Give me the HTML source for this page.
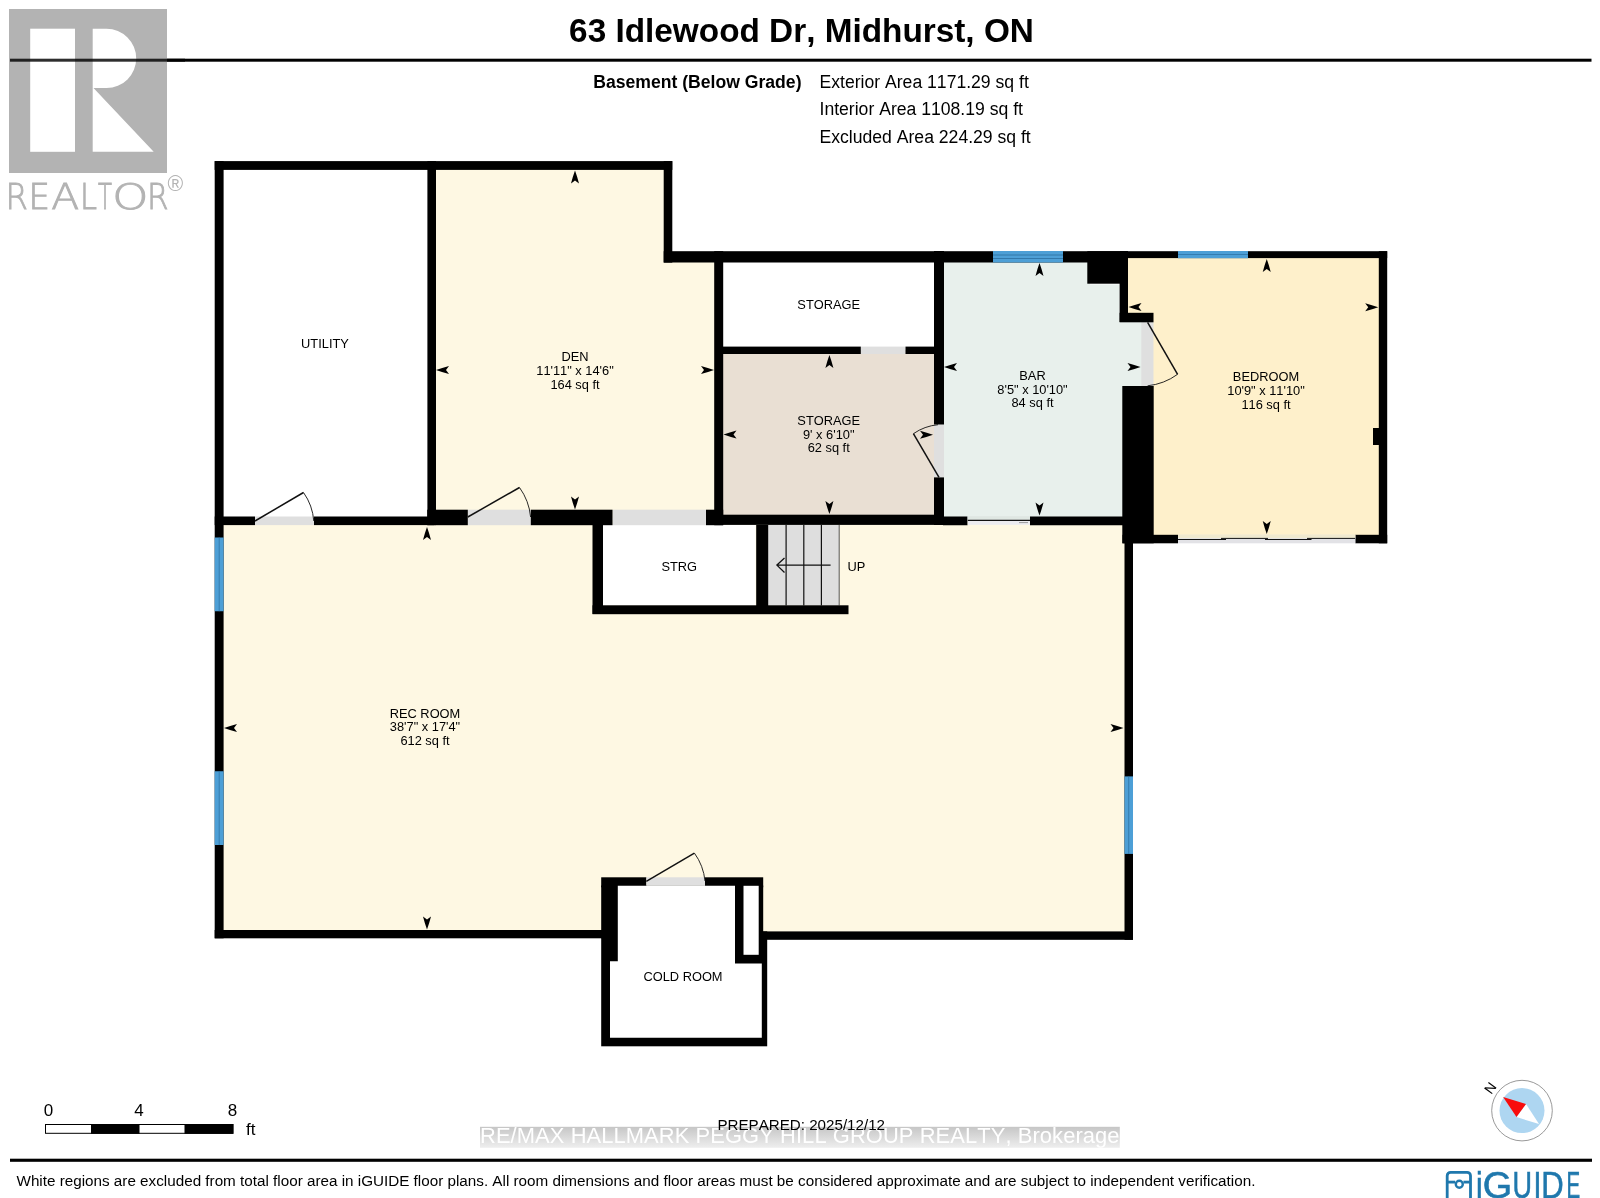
<!DOCTYPE html>
<html lang="en">
<head>
<meta charset="utf-8">
<title>63 Idlewood Dr, Midhurst, ON - Basement Floor Plan</title>
<style>
html,body{margin:0;padding:0;background:#fff;}
body{width:1600px;height:1198px;overflow:hidden;}
svg{display:block;will-change:transform;}
text{font-family:"Liberation Sans",sans-serif;fill:#000;font-kerning:none;}
.lbl{font-size:12.83px;text-anchor:middle;}
.b{font-weight:bold;}
text.ig{fill:#1f78ad;stroke:#1f78ad;stroke-width:0.6;}
text.rl{fill:#b3b3b3;stroke:#b3b3b3;stroke-width:0.9;font-family:"DejaVu Sans","Liberation Sans",sans-serif;font-weight:200;}
</style>
</head>
<body>
<svg width="1600" height="1198" viewBox="0 0 1600 1198">
<defs>
  <path id="ar" d="M0,0 Q2.2,6 4,13 L0,10 L-4,13 Q-2.2,6 0,0 Z"/>
  <linearGradient id="wm" x1="0" y1="0" x2="0" y2="1">
    <stop offset="0" stop-color="#c6c6c6"/>
    <stop offset="1" stop-color="#eeeeee"/>
  </linearGradient>
  <clipPath id="wmclip"><rect x="480" y="1126.8" width="639.8" height="21"/></clipPath>
</defs>
<rect x="0" y="0" width="1600" height="1198" fill="#ffffff"/>

<!-- ===== HEADER ===== -->
<g id="header">
  <rect x="10" y="58.7" width="1581.5" height="3" fill="#000"/>
  <text x="801.5" y="42" font-size="33.33" class="b" text-anchor="middle">63 Idlewood Dr, Midhurst, ON</text>
  <text x="801.5" y="87.5" font-size="17.6" class="b" text-anchor="end">Basement (Below Grade)</text>
  <text x="819.5" y="87.5" font-size="17.6">Exterior Area 1171.29 sq ft</text>
  <text x="819.5" y="115.3" font-size="17.6">Interior Area 1108.19 sq ft</text>
  <text x="819.5" y="142.5" font-size="17.6">Excluded Area 224.29 sq ft</text>
</g>

<!-- ===== ROOM FILLS ===== -->
<g id="fills">
  <!-- den -->
  <polygon points="432,166 667,166 667,256 718,256 718,518 432,518" fill="#fef8e3"/>
  <!-- rec room -->
  <polygon points="219,520 1128,520 1128,935 219,935" fill="#fef8e3"/>
  <!-- storage (tan) -->
  <rect x="718" y="350" width="220" height="168" fill="#e9dfd3"/>
  <!-- bar -->
  <polygon points="938,256 1090,256 1090,284.5 1119.5,284.5 1119.5,318 1147,318 1147,390 1126,390 1126,520 938,520" fill="#e8f0ec"/>
  <!-- bedroom -->
  <polygon points="1124,254 1382,254 1382,538 1150,538 1150,318 1124,318" fill="#fef0cb"/>
  <!-- white excluded: storage top, strg -->
  <rect x="723" y="262.5" width="210.5" height="84" fill="#fff"/>
  <rect x="603" y="525" width="152.5" height="80.5" fill="#fff"/>
</g>

<!-- ===== DOOR / OPENING GREYS ===== -->
<g id="openings" fill="#dfdfdf">
  <rect x="255" y="516.5" width="59" height="8.6"/>
  <rect x="467.8" y="509.7" width="63" height="15.5"/>
  <rect x="612.5" y="509.7" width="93.5" height="15.5"/>
  <rect x="860.8" y="346.6" width="44.7" height="7.4"/>
  <rect x="934" y="424.4" width="10" height="53"/>
  <rect x="1141.25" y="322" width="12.25" height="64"/>
</g>

<!-- ===== STAIRS ===== -->
<g id="stairs">
  <rect x="768" y="525" width="71.3" height="80.5" fill="#dedede"/>
  <g stroke="#111" stroke-width="1.2">
    <line x1="786.1" y1="525" x2="786.1" y2="605.5"/>
    <line x1="803.8" y1="525" x2="803.8" y2="605.5"/>
    <line x1="821.4" y1="525" x2="821.4" y2="605.5"/>
  </g>
  <line x1="839.2" y1="525" x2="839.2" y2="605.5" stroke="#333" stroke-width="0.8"/>
  <path d="M830.6,565.1 L776.9,565.1 M784.5,558 L776.9,565.1 L784.5,572.5" fill="none" stroke="#111" stroke-width="1.3"/>
</g>

<!-- ===== WALLS ===== -->
<g id="walls" fill="#000">
  <!-- outer left -->
  <rect x="214.7" y="161.1" width="8.9" height="777.2"/>
  <!-- top of utility + den -->
  <rect x="214.7" y="161.1" width="457.6" height="8.8"/>
  <!-- utility / den divider -->
  <rect x="427.4" y="161.1" width="8.6" height="364"/>
  <!-- den right upper -->
  <rect x="663.7" y="161.1" width="8.6" height="101.5"/>
  <!-- top wall of storage / bar -->
  <rect x="663.7" y="251.2" width="464.3" height="11.3"/>
  <!-- bedroom top wall -->
  <rect x="1120" y="251.2" width="267.2" height="6.9"/>
  <!-- den right lower -->
  <rect x="714.2" y="251.2" width="9" height="274"/>
  <!-- storage divider -->
  <rect x="723" y="346.6" width="137.8" height="7.4"/>
  <rect x="905.5" y="346.6" width="29.5" height="7.4"/>
  <!-- storage / bar wall -->
  <rect x="934" y="251" width="10" height="173.5"/>
  <rect x="934" y="477.4" width="10" height="47.6"/>
  <!-- utility bottom wall -->
  <rect x="214.7" y="516.5" width="40.3" height="8.6"/>
  <rect x="314" y="516.5" width="120" height="8.6"/>
  <!-- den bottom wall -->
  <rect x="427.25" y="509.7" width="40.55" height="15.5"/>
  <rect x="530.8" y="509.7" width="81.7" height="15.5"/>
  <rect x="706" y="509.7" width="17.2" height="15.5"/>
  <!-- storage bottom wall -->
  <rect x="714" y="514.7" width="230" height="10.2"/>
  <!-- bar bottom wall -->
  <rect x="943" y="516.5" width="24.5" height="8.75"/>
  <rect x="1030" y="516.5" width="96" height="8.75"/>
  <!-- block between bar and bedroom -->
  <rect x="1087.3" y="251.2" width="40.7" height="32.5"/>
  <rect x="1119.6" y="283" width="8.4" height="39"/>
  <rect x="1119.6" y="312.8" width="33.9" height="9.5"/>
  <rect x="1122.3" y="386" width="31.4" height="157.3"/>
  <!-- rec room right wall -->
  <rect x="1124.5" y="525" width="8.5" height="414.8"/>
  <!-- bedroom right wall -->
  <rect x="1378.8" y="251.2" width="8.4" height="292.1"/>
  <rect x="1373" y="428" width="6" height="17"/>
  <!-- bedroom bottom wall -->
  <rect x="1122.5" y="534.8" width="55.5" height="8.5"/>
  <rect x="1355.3" y="534.8" width="31.9" height="8.5"/>
  <!-- STRG box + stair wall -->
  <rect x="592.5" y="525" width="10.5" height="88.9"/>
  <rect x="592.5" y="605.3" width="256" height="8.9"/>
  <rect x="756.2" y="525" width="12" height="88.9"/>
  <!-- rec room bottom wall -->
  <rect x="214.7" y="930" width="387.3" height="8.3"/>
  <rect x="762" y="931.4" width="371" height="8.4"/>
</g>

<!-- ===== COLD ROOM ===== -->
<g id="cold">
  <rect x="601.2" y="877.3" width="45.2" height="10" fill="#000"/>
  <rect x="705" y="877.3" width="58.2" height="10" fill="#000"/>
  <rect x="601.2" y="885.5" width="162" height="52.8" fill="#000"/>
  <rect x="601.2" y="931.4" width="166" height="114.9" fill="#000"/>
  <polygon points="617.8,885.8 735,885.8 735,963.6 761.8,963.6 761.8,1037.7 610,1037.7 610,961.2 617.8,961.2" fill="#fff"/>
  <rect x="743.5" y="885.8" width="15.2" height="69" fill="#fff"/>
  <rect x="646.4" y="877.3" width="58.6" height="8.5" fill="#dfdfdf"/>
</g>

<!-- more sections inserted below -->
<g id="windows">
  <rect x="993" y="251" width="70" height="11.5" fill="#4d9fd6"/>
  <line x1="993" y1="255" x2="1063" y2="255" stroke="#2b6f9f" stroke-width="0.8"/>
  <line x1="993" y1="258.5" x2="1063" y2="258.5" stroke="#2b6f9f" stroke-width="0.8"/>
  <rect x="1178" y="251" width="70" height="7.2" fill="#4d9fd6"/>
  <line x1="1178" y1="254.5" x2="1248" y2="254.5" stroke="#2b6f9f" stroke-width="0.7"/>
  <rect x="214.7" y="537.5" width="8.9" height="73.75" fill="#4d9fd6"/>
  <line x1="219.2" y1="537.5" x2="219.2" y2="611.25" stroke="#2b6f9f" stroke-width="0.7"/>
  <rect x="214.7" y="771.25" width="8.9" height="73.75" fill="#4d9fd6"/>
  <line x1="219.2" y1="771.25" x2="219.2" y2="845" stroke="#2b6f9f" stroke-width="0.7"/>
  <rect x="1124.5" y="776.4" width="8.5" height="77.5" fill="#4d9fd6"/>
  <line x1="1128.7" y1="776.4" x2="1128.7" y2="853.9" stroke="#2b6f9f" stroke-width="0.7"/>
  <!-- sliding doors -->
  <rect x="967.8" y="516.2" width="62.2" height="8.6" fill="#ececf0"/>
  <rect x="967.8" y="516.2" width="62.2" height="3.6" fill="#dfe7e2"/>
  <line x1="967.8" y1="520.3" x2="1030" y2="520.3" stroke="#111" stroke-width="1.2"/>
  <line x1="1019" y1="522.6" x2="1028" y2="522.6" stroke="#777" stroke-width="0.7"/>
  <rect x="1178" y="534.8" width="177.3" height="8.5" fill="#e2e2e6"/>
  <rect x="1178" y="534.8" width="177.3" height="3.4" fill="#efe9cf"/>
  <g stroke="#111" stroke-width="1">
    <line x1="1178" y1="539.5" x2="1226" y2="539.5"/>
    <line x1="1221" y1="538.4" x2="1268" y2="538.4"/>
    <line x1="1265" y1="539.5" x2="1311.5" y2="539.5"/>
    <line x1="1307" y1="538.4" x2="1355" y2="538.4"/>
  </g>
</g>
<g id="doors" fill="none" stroke="#111">
  <g stroke-width="1.5" stroke-linecap="butt">
    <path d="M255,521 L303.5,492.5"/>
    <path d="M467.8,517 L519.5,487.5"/>
    <path d="M939,477.4 L913.4,433.7"/>
    <path d="M1147.6,322.3 L1177.6,374.3"/>
    <path d="M646.3,881.3 L694.4,853.1"/>
  </g>
  <g stroke-width="0.9">
    <path d="M303.5,492.5 A57,57 0 0 1 313.8,521"/>
    <path d="M519.5,487.5 A60,60 0 0 1 530.6,517"/>
    <path d="M913.4,433.7 A52,52 0 0 1 938,424.7"/>
    <path d="M1177.6,374.3 A62,62 0 0 1 1147.6,385.8"/>
    <path d="M694.4,853.1 A57,57 0 0 1 705,881"/>
  </g>
</g>
<g id="arrows" fill="#000">
  <use href="#ar" transform="translate(575,170.5) rotate(0)"/>
  <use href="#ar" transform="translate(575,509.5) rotate(180)"/>
  <use href="#ar" transform="translate(436,370) rotate(-90)"/>
  <use href="#ar" transform="translate(714,370) rotate(90)"/>
  <use href="#ar" transform="translate(829.4,355) rotate(0)"/>
  <use href="#ar" transform="translate(829.4,514) rotate(180)"/>
  <use href="#ar" transform="translate(723.5,434.5) rotate(-90)"/>
  <use href="#ar" transform="translate(933,434.8) rotate(90)"/>
  <use href="#ar" transform="translate(1039.5,263) rotate(0)"/>
  <use href="#ar" transform="translate(1039.5,515.5) rotate(180)"/>
  <use href="#ar" transform="translate(944,367) rotate(-90)"/>
  <use href="#ar" transform="translate(1140.5,367) rotate(90)"/>
  <use href="#ar" transform="translate(1266.75,259) rotate(0)"/>
  <use href="#ar" transform="translate(1266.75,534) rotate(180)"/>
  <use href="#ar" transform="translate(1128.5,307) rotate(-90)"/>
  <use href="#ar" transform="translate(1378.2,307.3) rotate(90)"/>
  <use href="#ar" transform="translate(427,527) rotate(0)"/>
  <use href="#ar" transform="translate(427,929.5) rotate(180)"/>
  <use href="#ar" transform="translate(224,728) rotate(-90)"/>
  <use href="#ar" transform="translate(1123.5,728) rotate(90)"/>
</g>
<g id="labels" class="lbl" transform="translate(0,0.7)">
  <text x="325" y="347">UTILITY</text>
  <text x="575" y="360.5">DEN</text>
  <text x="575" y="374.25">11'11" x 14'6"</text>
  <text x="575" y="388">164 sq ft</text>
  <text x="828.7" y="308.75">STORAGE</text>
  <text x="828.7" y="424.25">STORAGE</text>
  <text x="828.7" y="438">9' x 6'10"</text>
  <text x="828.7" y="451.75">62 sq ft</text>
  <text x="1032.5" y="379.5">BAR</text>
  <text x="1032.5" y="393.25">8'5" x 10'10"</text>
  <text x="1032.5" y="406.75">84 sq ft</text>
  <text x="1266" y="380.75">BEDROOM</text>
  <text x="1266" y="394.5">10'9" x 11'10"</text>
  <text x="1266" y="408">116 sq ft</text>
  <text x="425" y="717">REC ROOM</text>
  <text x="425" y="730.75">38'7" x 17'4"</text>
  <text x="425" y="744.5">612 sq ft</text>
  <text x="679.25" y="570">STRG</text>
  <text x="847.5" y="570" text-anchor="start">UP</text>
  <text x="683" y="980.75">COLD ROOM</text>
</g>
<g id="footer">
  <rect x="10" y="1158.7" width="1582" height="3.1" fill="#000"/>
  <rect x="45.5" y="1124.5" width="187.5" height="8.8" fill="#fff" stroke="#000" stroke-width="1"/>
  <rect x="91" y="1124" width="48.5" height="9.8" fill="#000"/>
  <rect x="184.5" y="1124" width="48.8" height="9.8" fill="#000"/>
  <text x="48.5" y="1116.2" font-size="17" text-anchor="middle">0</text>
  <text x="139" y="1116.2" font-size="17" text-anchor="middle">4</text>
  <text x="232.5" y="1116.2" font-size="17" text-anchor="middle">8</text>
  <text x="246" y="1134.5" font-size="17">ft</text>
  <rect x="480" y="1126.8" width="639.8" height="21" fill="url(#wm)"/>
  <text x="480" y="1142.5" font-size="21.9" textLength="639.5" lengthAdjust="spacing" clip-path="url(#wmclip)" style="fill:#ffffff">RE/MAX HALLMARK PEGGY HILL GROUP REALTY, Brokerage</text>
  <text x="717.4" y="1129.5" font-size="15.17">PREPARED: 2025/12/12</text>
  <text x="16.5" y="1186" font-size="15.245">White regions are excluded from total floor area in iGUIDE floor plans. All room dimensions and floor areas must be considered approximate and are subject to independent verification.</text>
</g>
<g id="logos">
  <!-- REALTOR mark -->
  <g>
    <rect x="9" y="9" width="158" height="164" fill="#b3b3b3"/>
    <rect x="30.2" y="28.7" width="44.8" height="123.1" fill="#fff"/>
    <path d="M92.7,28.7 L106.5,28.7 A29.7,29.7 0 0 1 106.5,88.1 L93.5,88.1 L153.7,151.8 L92.7,151.8 Z" fill="#fff"/>
    <rect x="10" y="58.7" width="175" height="3" fill="#000" opacity="0.82"/>
    <text class="rl" y="209.3" font-size="35.5"><tspan x="5.57" textLength="22.40" lengthAdjust="spacingAndGlyphs">R</tspan><tspan x="28.53" textLength="21.47" lengthAdjust="spacingAndGlyphs">E</tspan><tspan x="51.20" textLength="27.94" lengthAdjust="spacingAndGlyphs">A</tspan><tspan x="80.11" textLength="17.03" lengthAdjust="spacingAndGlyphs">L</tspan><tspan x="97.95" textLength="13.95" lengthAdjust="spacingAndGlyphs">T</tspan><tspan x="112.16" textLength="36.21" lengthAdjust="spacingAndGlyphs">O</tspan><tspan x="146.96" textLength="21.56" lengthAdjust="spacingAndGlyphs">R</tspan></text>
    <text x="167.4" y="191.3" font-size="21.3" style="fill:#b3b3b3">®</text>
  </g>
  <!-- compass -->
  <g>
    <circle cx="1522" cy="1110.6" r="30.3" fill="#fff" stroke="#777" stroke-width="0.75"/>
    <circle cx="1522" cy="1110.6" r="22.5" fill="#aed6f1"/>
    <polygon points="1526,1104 1539,1124 1516.5,1117.1" fill="#fff"/>
    <polygon points="1503.1,1097.1 1526,1104 1516.5,1117.1" fill="#f80c0c"/>
    <text x="0" y="0" font-size="14" text-anchor="middle" transform="translate(1494.2,1090.8) rotate(-54)">N</text>
  </g>
  <!-- iGUIDE -->
  <g fill="none" stroke="#1f78ad" stroke-width="2.8">
    <rect x="1447.2" y="1172.3" width="23.3" height="30" rx="3.4"/>
    <line x1="1447" y1="1182.1" x2="1455.2" y2="1182.1"/>
    <line x1="1463.4" y1="1182.1" x2="1471" y2="1182.1"/>
    <circle cx="1459.3" cy="1184.3" r="3.5" stroke-width="2.4"/>
  </g>
  <text class="ig" y="1198" font-size="36.5"><tspan x="1476.11" textLength="6.63" lengthAdjust="spacingAndGlyphs">i</tspan><tspan x="1482.67" textLength="29.38" lengthAdjust="spacingAndGlyphs">G</tspan><tspan x="1512.52" textLength="19.48" lengthAdjust="spacingAndGlyphs">U</tspan><tspan x="1533.50" textLength="7.92" lengthAdjust="spacingAndGlyphs">I</tspan><tspan x="1541.29" textLength="22.43" lengthAdjust="spacingAndGlyphs">D</tspan><tspan x="1566.56" textLength="13.67" lengthAdjust="spacingAndGlyphs">E</tspan></text>
</g>
</svg>
</body>
</html>
